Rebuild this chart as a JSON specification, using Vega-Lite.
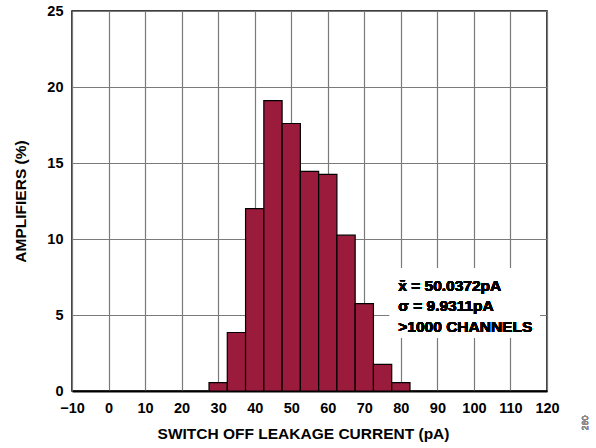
{
  "$schema": "https://vega.github.io/schema/vega-lite/v6.json",
  "autosize": {"type": "none"},
  "padding": {"left": 72, "top": 11, "right": 49, "bottom": 57},
  "width": 475,
  "height": 380,
  "background": "white",
  "config": {
    "font": "Liberation Sans",
    "view": {"stroke": "black", "strokeWidth": 1.5},
    "axis": {
      "labelFont": "Liberation Sans",
      "labelFontWeight": "bold",
      "labelFontSize": 14.5,
      "labelColor": "black",
      "titleFont": "Liberation Sans",
      "titleFontWeight": "bold",
      "titleFontSize": 15.5,
      "titleColor": "black",
      "ticks": false,
      "gridColor": "#7a7a7a",
      "gridWidth": 1.2,
      "gridOpacity": 1
    }
  },
  "data": {
    "values": [
      {"bin_start": 27.5, "bin_end": 32.5, "pct": 0.55},
      {"bin_start": 32.5, "bin_end": 37.5, "pct": 3.85},
      {"bin_start": 37.5, "bin_end": 42.5, "pct": 12.0},
      {"bin_start": 42.5, "bin_end": 47.5, "pct": 19.1},
      {"bin_start": 47.5, "bin_end": 52.5, "pct": 17.6},
      {"bin_start": 52.5, "bin_end": 57.5, "pct": 14.45},
      {"bin_start": 57.5, "bin_end": 62.5, "pct": 14.25},
      {"bin_start": 62.5, "bin_end": 67.5, "pct": 10.25},
      {"bin_start": 67.5, "bin_end": 72.5, "pct": 5.75},
      {"bin_start": 72.5, "bin_end": 77.5, "pct": 1.75},
      {"bin_start": 77.5, "bin_end": 82.5, "pct": 0.55}
    ]
  },
  "layer": [
    {
      "mark": {"type": "rect", "fill": "#9b1b3d", "stroke": "black", "strokeWidth": 1.2},
      "encoding": {
        "x": {"field": "bin_start", "type": "quantitative",
          "scale": {"domain": [-10, 120], "nice": false, "zero": false},
          "axis": {
            "values": [-10, 0, 10, 20, 30, 40, 50, 60, 70, 80, 90, 100, 110, 120],
            "tickCount": 20,
            "title": "SWITCH OFF LEAKAGE CURRENT (pA)",
            "grid": true,
            "labelOverlap": false,
            "labelPadding": 10,
            "labelFlush": false,
            "titlePadding": 12,
            "titleX": 231,
            "domainColor": "black",
            "domainWidth": 2
          }
        },
        "x2": {"field": "bin_end"},
        "y": {"field": "pct", "type": "quantitative",
          "scale": {"domain": [0, 25], "nice": false},
          "axis": {
            "values": [0, 5, 10, 15, 20, 25],
            "tickCount": 10,
            "title": "AMPLIFIERS (%)",
            "grid": true,
            "labelOverlap": false,
            "labelPadding": 9,
            "labelFlush": false,
            "titlePadding": 18,
            "domain": false
          }
        },
        "y2": {"datum": 0}
      }
    },
    {
      "mark": {"type": "rect", "fill": "white", "stroke": null},
      "encoding": {
        "x": {"datum": 77, "type": "quantitative"},
        "x2": {"datum": 118},
        "y": {"datum": 3.5, "type": "quantitative"},
        "y2": {"datum": 8.1}
      }
    },
    {
      "mark": {
        "type": "text",
        "text": ["x̄ = 50.0372pA", "σ = 9.9311pA", ">1000 CHANNELS"],
        "font": "Liberation Sans",
        "fontWeight": "bold",
        "fontSize": 15.5,
        "lineHeight": 20.5,
        "align": "left",
        "baseline": "top",
        "fill": "black"
      },
      "encoding": {
        "x": {"datum": 79.3, "type": "quantitative"},
        "y": {"datum": 7.39, "type": "quantitative"}
      }
    },
    {
      "mark": {
        "type": "text",
        "text": "260",
        "font": "Liberation Sans",
        "fontSize": 9,
        "angle": 270,
        "align": "center",
        "baseline": "middle",
        "fill": "#8a8a8a",
        "clip": false
      },
      "encoding": {
        "x": {"datum": 130.4, "type": "quantitative"},
        "y": {"datum": -2.1, "type": "quantitative"}
      }
    }
  ]
}
